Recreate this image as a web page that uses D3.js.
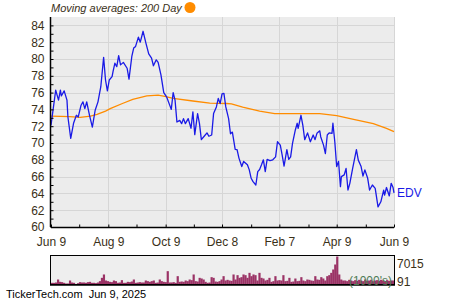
<!DOCTYPE html>
<html>
<head>
<meta charset="utf-8">
<script src="https://cdn.jsdelivr.net/npm/d3@7"></script>
<style>
  body { margin: 0; background: #fff; }
  text { font-family: "Liberation Sans", Arial, sans-serif; }
</style>
</head>
<body>
<div id="chart"></div>
<script>
// EDV, one year of closes.
// day offsets from Jun 9 2024
var startDate = new Date(2024, 5, 9);
var endDate = new Date(2025, 5, 9);

var priceDays = [0,5,8,10,11,14,17,18,21,24,27,29,32,34,36,38,41,44,47,50,53,56,58,60,62,65,66,68,70,72,74,77,81,83,86,88,90,93,95,98,101,104,107,109,112,114,117,120,123,127,128,130,132,134,137,139,141,143,146,149,151,153,156,158,160,163,166,168,171,173,176,178,180,182,184,186,189,191,193,196,198,200,203,205,209,211,213,215,218,220,222,224,226,228,230,233,236,239,241,244,246,248,251,253,255,257,260,262,263,266,268,270,273,276,279,281,283,286,287,290,292,294,296,299,300,302,304,306,308,309,312,314,316,318,321,325,327,330,332,334,337,339,342,345,348,351,354,355,357,360,362,364,365];
var priceValues = [72.1,76.3,75.1,76.3,75.6,76.2,75.1,73.1,70.55,72.35,73.3,73.1,74.5,74.9,74.1,74.9,73.3,71.9,73.9,74.9,76.7,80.2,77.5,76.2,77.5,77.9,78.5,79.5,79.1,80.4,79.3,79.6,78.9,77.6,80.3,81.3,81.5,82.6,82.0,83.3,81.9,80.6,80.1,79.2,79.9,79.6,78.1,76.0,75.5,74.3,74.0,76.0,75.1,72.5,72.7,72.3,72.9,72.3,72.9,71.75,73.7,71.0,73.5,72.3,70.4,70.8,71.2,70.8,70.95,73.5,74.3,75.3,74.7,75.85,75.9,74.3,72.9,71.1,71.3,69.25,69.2,68.2,67.2,67.8,67.4,66.8,65.8,65.4,65.0,66.6,66.85,67.4,68.0,66.6,68.05,67.9,68.0,68.35,70.15,69.75,68.56,67.25,69.2,68.05,68.35,69.96,71.55,72.35,71.75,73.3,72.1,70.4,71.2,70.15,70.95,70.4,71.15,71.45,70.75,69.75,68.75,70.95,71.2,71.15,72.35,70.15,67.2,67.8,64.8,66.0,66.2,66.97,64.4,65.2,66.97,69.2,67.96,67.2,66.05,66.8,65.8,64.4,65.0,64.6,62.4,63.0,64.4,63.8,64.7,63.7,65.2,64.7,64.06];

// 200 day moving average
var maDays = [0,20,31,42,49,58,63,76,87,102,114,121,130,151,169,187,192,204,222,238,286,304,322,343,357,365];
var maValues = [73.2,73.15,73.05,73.2,73.4,73.8,74.1,74.7,75.2,75.6,75.7,75.55,75.3,75.0,74.75,74.7,74.65,74.26,73.8,73.5,73.5,73.25,72.8,72.3,71.75,71.35];

// volume in 1000's, evenly spaced over the year
var volumes = [420,410,500,1250,670,590,420,250,260,1000,500,420,91,340,590,500,510,420,590,670,420,430,340,500,840,1670,2510,1000,840,670,590,1000,840,420,500,1090,420,430,670,590,750,1250,420,500,590,500,510,1000,840,670,840,1000,420,500,1250,840,670,590,3340,500,510,590,420,2090,670,750,670,1000,840,1250,1090,2510,840,750,1670,1500,1250,670,420,500,1840,1670,750,670,840,1250,2090,1000,1170,1000,920,2510,1250,2340,1670,1840,2510,2340,1670,2920,2090,2510,2340,1000,2920,1670,1500,1000,1170,1670,670,840,2090,1000,1090,1000,2340,840,920,1670,670,750,1500,840,920,1840,1000,840,1250,1170,1000,920,2090,1250,1170,1840,1500,1000,2090,2340,2920,3760,5010,7015,2510,1250,1000,1000,840,1170,1000,840,1090,920,1170,1000,840,1250,920,1000,1170,840,1000,1090,920,1170,1000,840,1090,920,1000,1000];

var yTickValues = [60,62,64,66,68,70,72,74,76,78,80,82,84];
var yMinorValues = [61,63,65,67,69,71,73,75,77,79,81,83];
var xTickDates = [new Date(2024,5,9), new Date(2024,7,9), new Date(2024,9,9), new Date(2024,11,8), new Date(2025,1,7), new Date(2025,3,9), new Date(2025,5,9)];
var xTickLabels = ['Jun 9','Aug 9','Oct 9','Dec 8','Feb 7','Apr 9','Jun 9'];
var xMinorDates = [new Date(2024,6,9), new Date(2024,8,8), new Date(2024,10,8), new Date(2025,0,8), new Date(2025,2,10), new Date(2025,4,10)];
var volLabels = ['7015', '91'];

(function() {
  var W = 450, H = 300;
  var pLeft = 51, pRight = 394, pTop = 17, pBottom = 227;
  var labelColor = '#3a3018';

  var svg = d3.select('#chart').append('svg')
    .attr('width', W).attr('height', H);

  svg.append('rect').attr('width', W).attr('height', H).attr('fill', '#fff');

  var x = d3.scaleTime().domain([startDate, endDate]).range([pLeft, pRight]);
  var y = d3.scaleLinear().domain([60, 85]).range([pBottom, pTop]);

  // plot background
  svg.append('rect')
    .attr('x', pLeft).attr('y', pTop)
    .attr('width', pRight - pLeft).attr('height', pBottom - pTop)
    .attr('fill', '#ececec');

  // grid
  svg.append('g').selectAll('line')
    .data(yTickValues.slice(1))
    .enter().append('line')
    .attr('x1', pLeft).attr('x2', pRight)
    .attr('y1', function(d) { return Math.round(y(d)) + 0.5; })
    .attr('y2', function(d) { return Math.round(y(d)) + 0.5; })
    .style('stroke', '#d6d6d6').style('stroke-width', 1);

  svg.append('g').selectAll('line')
    .data(xTickDates.slice(1))
    .enter().append('line')
    .attr('x1', function(d) { return Math.round(x(d)) + 0.5; })
    .attr('x2', function(d) { return Math.round(x(d)) + 0.5; })
    .attr('y1', pTop).attr('y2', pBottom)
    .style('stroke', '#d6d6d6').style('stroke-width', 1);

  var dayToDate = function(dd) { return d3.timeDay.offset(startDate, dd); };

  // moving average
  var maLine = d3.line()
    .x(function(d, i) { return x(dayToDate(maDays[i])); })
    .y(function(d) { return y(d); });

  svg.append('path')
    .datum(maValues)
    .attr('d', maLine)
    .style('fill', 'none')
    .style('stroke', '#ff8c00')
    .style('stroke-width', 1.3);

  // price
  var priceLine = d3.line()
    .x(function(d, i) { return x(dayToDate(priceDays[i])); })
    .y(function(d) { return y(d); });

  svg.append('path')
    .datum(priceValues)
    .attr('d', priceLine)
    .style('fill', 'none')
    .style('stroke', '#1a1ae6')
    .style('stroke-width', 1.3)
    .style('stroke-linejoin', 'round');

  // axes (ticks point inward)
  var yAxis = d3.axisLeft(y).tickValues(yTickValues).tickSize(-3).tickPadding(6)
    .tickFormat(d3.format('d'));
  var yAxisG = svg.append('g').attr('transform', 'translate(' + (pLeft - 0.5) + ',0)').call(yAxis);
  var yMinorG = svg.append('g').attr('transform', 'translate(' + (pLeft - 0.5) + ',0)')
    .call(d3.axisLeft(y).tickValues(yMinorValues).tickSize(-3).tickFormat(''));

  var xAxis = d3.axisBottom(x).tickValues(xTickDates).tickSize(-3).tickPadding(10)
    .tickFormat(function(d, i) { return xTickLabels[i]; });
  var xAxisG = svg.append('g').attr('transform', 'translate(0,' + (pBottom + 0.5) + ')').call(xAxis);
  var xMinorG = svg.append('g').attr('transform', 'translate(0,' + (pBottom + 0.5) + ')')
    .call(d3.axisBottom(x).tickValues(xMinorDates).tickSize(-3).tickFormat(''));

  [yAxisG, yMinorG, xAxisG, xMinorG].forEach(function(g) {
    g.select('.domain').attr('stroke', '#000').attr('stroke-width', 1.5);
    g.selectAll('.tick line').attr('stroke', '#000');
    g.selectAll('.tick text')
      .attr('fill', labelColor)
      .style('font-size', '12px')
      .style('font-family', '"Liberation Sans", Arial, sans-serif');
  });
  yAxisG.select('.domain').attr('d', 'M0,' + pTop + 'V' + pBottom);
  xAxisG.select('.domain').attr('d', 'M' + pLeft + ',0H' + pRight);
  yMinorG.select('.domain').remove();
  xMinorG.select('.domain').remove();
  xAxisG.selectAll('.tick text').attr('dy', '0.71em');

  // ticker label at the end of the line
  svg.append('text')
    .attr('x', pRight + 3)
    .attr('y', y(priceValues[priceValues.length - 1]))
    .attr('dy', '0.35em')
    .attr('fill', '#1a1ae6')
    .style('font-size', '12px')
    .text('EDV');

  // legend
  svg.append('text')
    .attr('x', 51).attr('y', 12)
    .attr('fill', labelColor)
    .style('font-size', '11px')
    .style('font-style', 'italic')
    .text('Moving averages: 200 Day');
  svg.append('circle')
    .attr('cx', 190).attr('cy', 7.5).attr('r', 5.5)
    .attr('fill', '#ff8c00');

  // volume panel
  var vTop = 256, vBottom = 285;
  var vx = d3.scaleBand().domain(d3.range(volumes.length)).range([pLeft, pRight]).padding(0);
  var vy = d3.scaleLinear().domain([0, d3.max(volumes)]).range([vBottom - 0.5, vTop + 0.5]);

  svg.append('rect')
    .attr('x', pLeft - 0.5).attr('y', vTop - 0.5)
    .attr('width', pRight - pLeft + 1).attr('height', vBottom - vTop)
    .attr('fill', '#eeeeee');

  svg.append('g').selectAll('rect')
    .data(volumes)
    .enter().append('rect')
    .attr('x', function(d, i) { return vx(i); })
    .attr('width', vx.bandwidth() + 0.2)
    .attr('y', function(d) { return vy(d); })
    .attr('height', function(d) { return vy(0) - vy(d); })
    .attr('fill', '#9b3366');

  svg.append('rect')
    .attr('x', pLeft - 0.5).attr('y', vTop - 0.5)
    .attr('width', pRight - pLeft + 1).attr('height', vBottom - vTop)
    .attr('fill', 'none').attr('stroke', '#000').attr('stroke-width', 1);
  svg.append('line')
    .attr('x1', pLeft - 1).attr('x2', pRight + 1)
    .attr('y1', vBottom).attr('y2', vBottom)
    .attr('stroke', '#000').attr('stroke-width', 1.5);

  svg.append('text')
    .attr('x', 392).attr('y', 281).attr('dy', '0.35em')
    .attr('text-anchor', 'end')
    .attr('fill', '#4d7a55')
    .style('font-size', '12px')
    .text("(1000's)");

  svg.selectAll('.vlabel')
    .data(volLabels)
    .enter().append('text')
    .attr('class', 'vlabel')
    .attr('x', pRight + 3)
    .attr('y', function(d, i) { return i === 0 ? 264 : 282; })
    .attr('dy', '0.35em')
    .attr('fill', labelColor)
    .style('font-size', '12px')
    .text(function(d) { return d; });

  // footer
  svg.append('text')
    .attr('x', 6).attr('y', 298)
    .attr('fill', '#000')
    .style('font-size', '11px')
    .text('TickerTech.com\u00a0\u00a0Jun 9, 2025');
})();
</script>
</body>
</html>
